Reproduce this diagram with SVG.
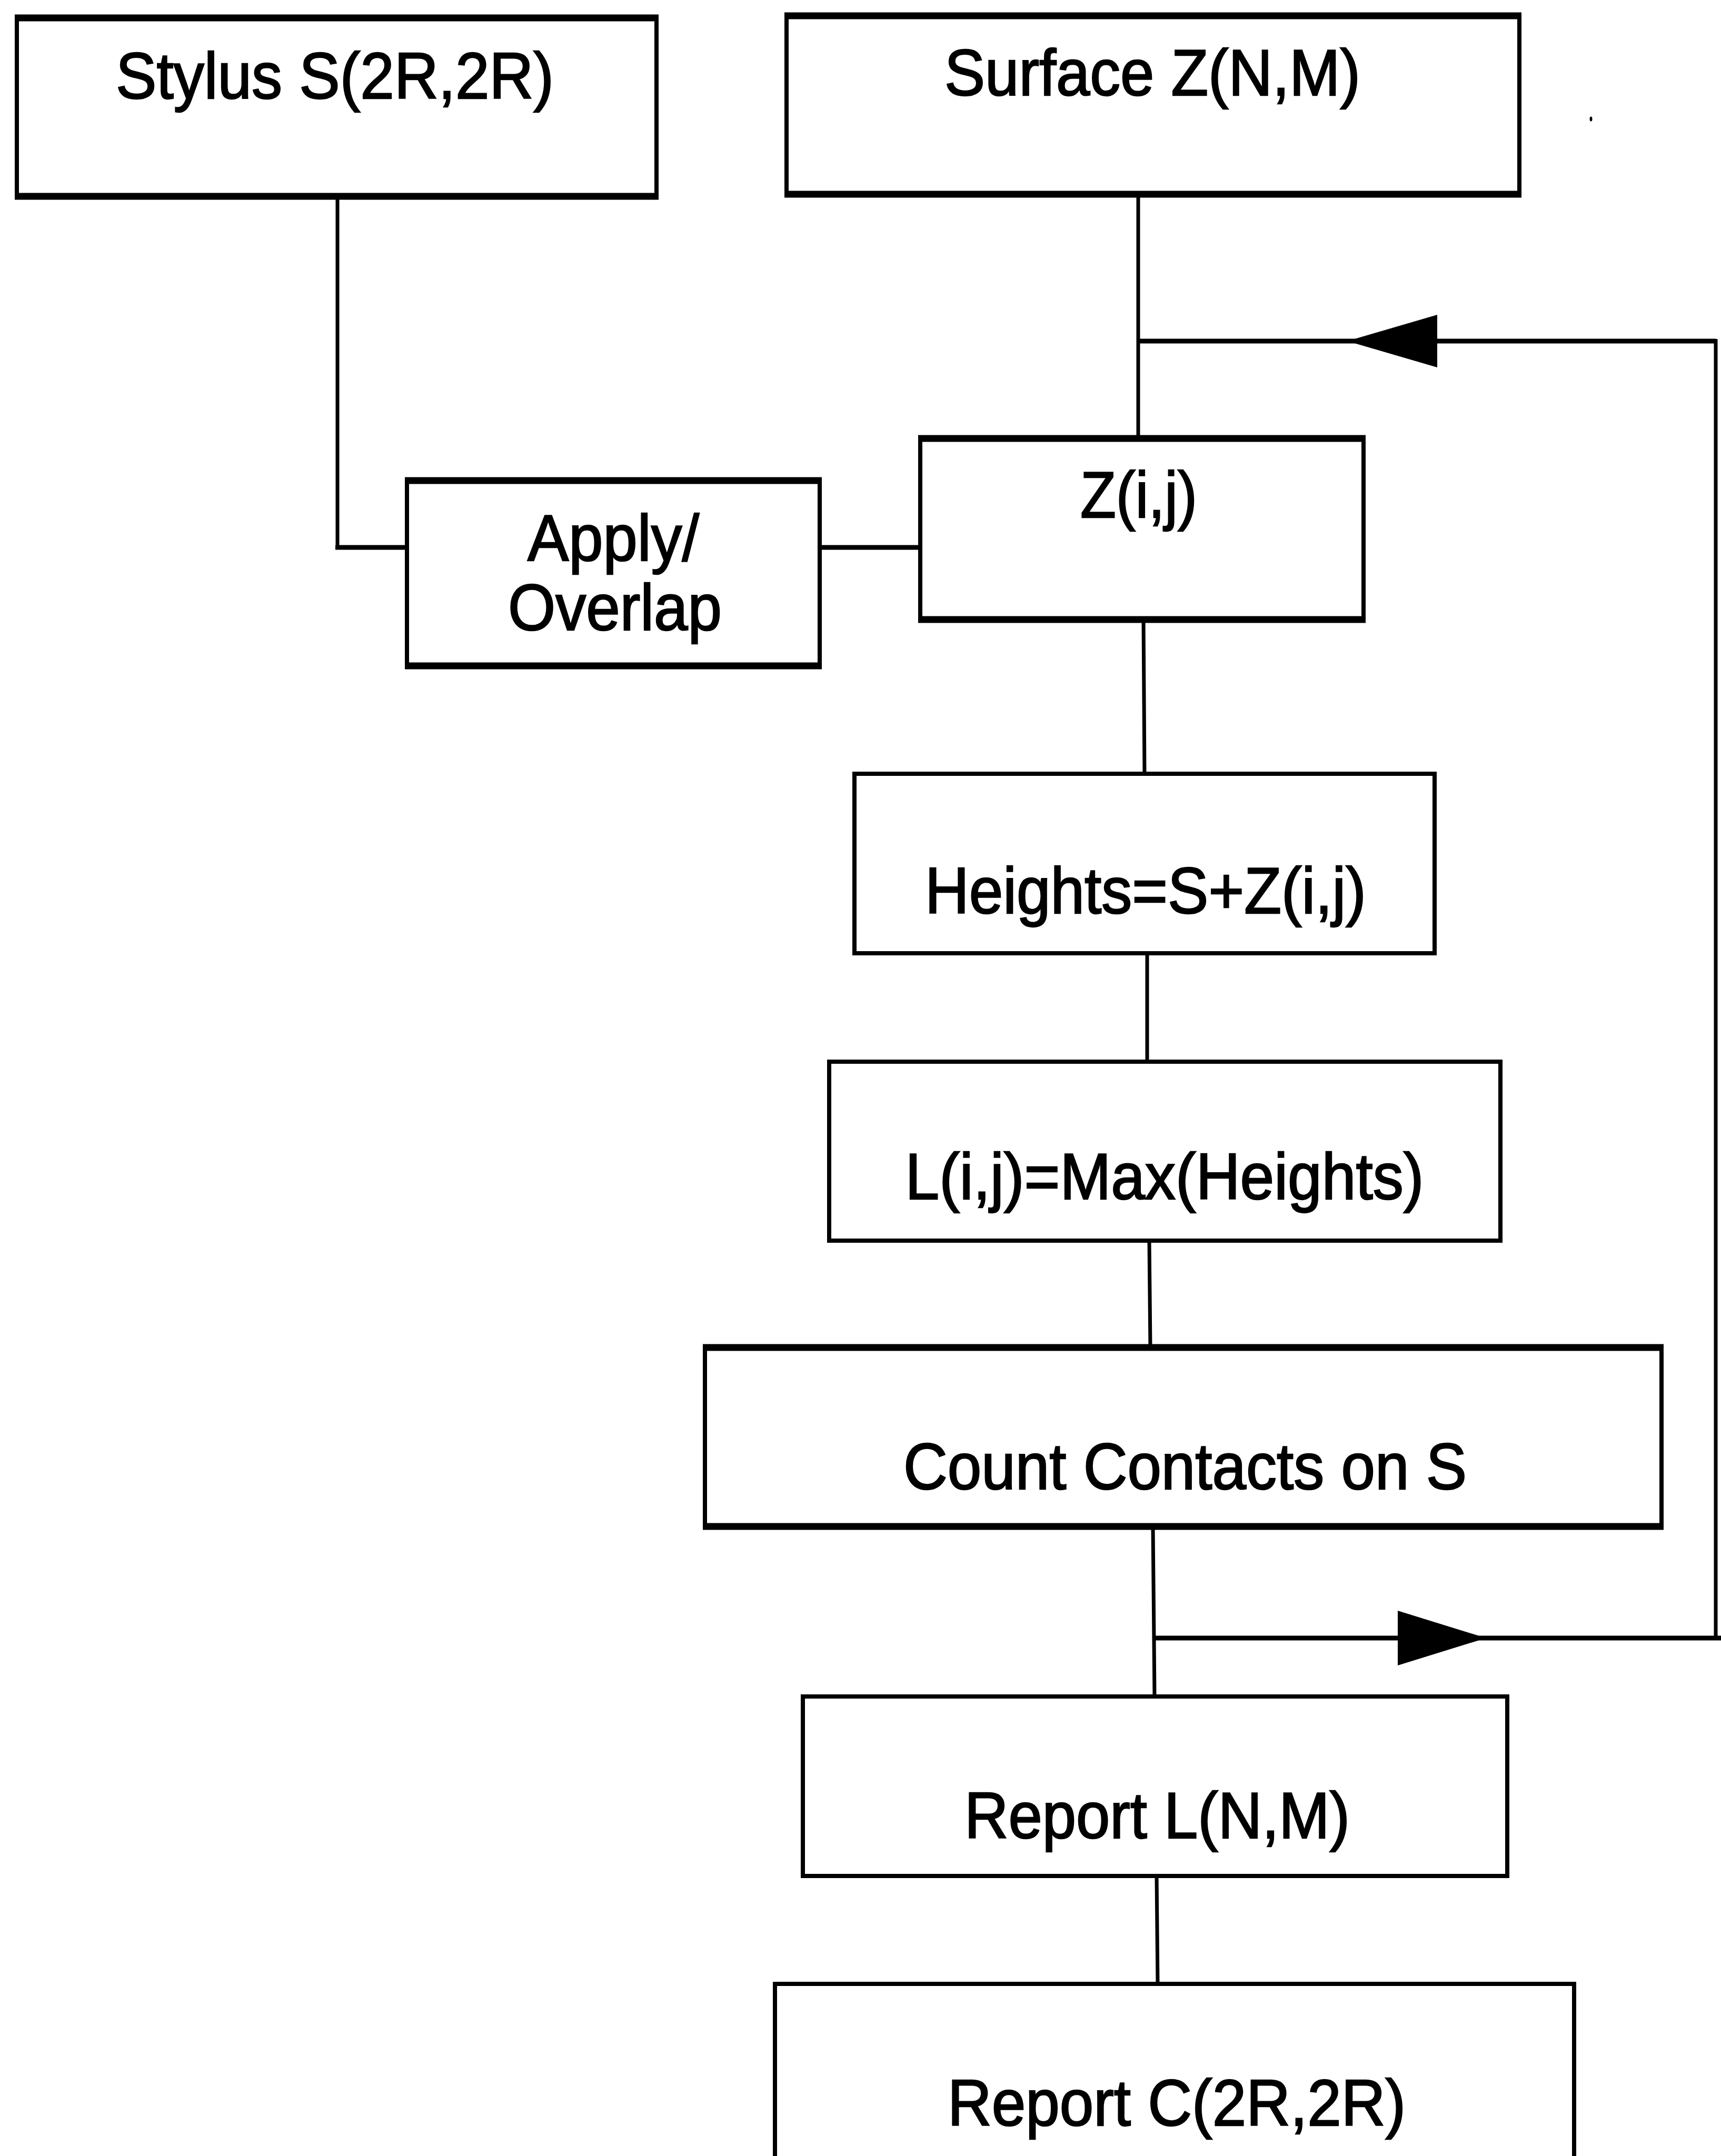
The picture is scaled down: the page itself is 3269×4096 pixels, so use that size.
<svg xmlns="http://www.w3.org/2000/svg" width="3269" height="4096" viewBox="0 0 3269 4096">
<style>
.box{fill:#fff;stroke:#000;stroke-width:8}
.edge{stroke:#000;stroke-width:13;fill:none}
.lbl{font-family:"Liberation Sans",Arial,sans-serif;font-size:125px;fill:#000;stroke:#000;stroke-width:2.5;text-anchor:middle}
.wire{stroke:#000;stroke-width:7;fill:none}
.wireh{stroke:#000;stroke-width:9;fill:none}
.head{fill:#000;stroke:none}
</style>
<rect x="0" y="0" width="3269" height="4096" fill="#fff"/>
<g id="connectors">
<path class="wire" d="M641 379 V1040"/>
<path class="wireh" d="M637 1040 H773"/>
<path class="wireh" d="M1557 1040 H1748"/>
<path class="wire" d="M2162 368 V833"/>
<path class="wireh" d="M2162 648 H3259"/>
<path class="wire" d="M3259 644 V3116"/>
<polygon class="head" points="2559,648 2730,598 2730,698"/>
<path class="wire" d="M2172 1177 L2174 1470"/>
<path class="wire" d="M2179 1811 V2017"/>
<path class="wire" d="M2183 2357 L2185 2560"/>
<path class="wire" d="M2190 2900 L2193 3223"/>
<path class="wireh" d="M2190 3112 H3269"/>
<polygon class="head" points="2655,3060 2823,3112 2655,3164"/>
<path class="wire" d="M2197 3564 L2199 3769"/>
<ellipse cx="3022" cy="226" rx="2.5" ry="4.5" fill="#000"/>
</g>
<g id="stylus">
<rect class="box" x="32" y="34" width="1215" height="339"/>
<line class="edge" x1="28" y1="34" x2="1251" y2="34"/>
<line class="edge" x1="28" y1="373" x2="1251" y2="373"/>
<text class="lbl" x="636" y="187" textLength="832" lengthAdjust="spacingAndGlyphs">Stylus S(2R,2R)</text>
</g>
<g id="surface">
<rect class="box" x="1494" y="30" width="1392" height="339"/>
<line class="edge" x1="1490" y1="30" x2="2890" y2="30"/>
<line class="edge" x1="1490" y1="369" x2="2890" y2="369"/>
<text class="lbl" x="2189" y="181" textLength="790" lengthAdjust="spacingAndGlyphs">Surface Z(N,M)</text>
</g>
<g id="zij">
<rect class="box" x="1748" y="833" width="842" height="344"/>
<line class="edge" x1="1744" y1="833" x2="2594" y2="833"/>
<line class="edge" x1="1744" y1="1177" x2="2594" y2="1177"/>
<text class="lbl" x="2163" y="983" textLength="222" lengthAdjust="spacingAndGlyphs">Z(i,j)</text>
</g>
<g id="apply">
<rect class="box" x="773" y="913" width="784" height="352"/>
<line class="edge" x1="769" y1="913" x2="1561" y2="913"/>
<line class="edge" x1="769" y1="1265" x2="1561" y2="1265"/>
<text class="lbl" x="1165" y="1065" textLength="326" lengthAdjust="spacingAndGlyphs">Apply/</text>
<text class="lbl" x="1168" y="1197" textLength="406" lengthAdjust="spacingAndGlyphs">Overlap</text>
</g>
<g id="heights">
<rect class="box" x="1623" y="1470" width="1102" height="341"/>
<text class="lbl" x="2176" y="1735" textLength="838" lengthAdjust="spacingAndGlyphs">Heights=S+Z(i,j)</text>
</g>
<g id="lmax">
<rect class="box" x="1575" y="2017" width="1275" height="340"/>
<text class="lbl" x="2212" y="2278" textLength="985" lengthAdjust="spacingAndGlyphs">L(i,j)=Max(Heights)</text>
</g>
<g id="count">
<rect class="box" x="1339" y="2560" width="1817" height="340"/>
<line class="edge" x1="1335" y1="2560" x2="3160" y2="2560"/>
<line class="edge" x1="1335" y1="2900" x2="3160" y2="2900"/>
<text class="lbl" x="2251" y="2829" textLength="1070" lengthAdjust="spacingAndGlyphs">Count Contacts on S</text>
</g>
<g id="reportL">
<rect class="box" x="1525" y="3223" width="1338" height="341"/>
<text class="lbl" x="2198" y="3492" textLength="732" lengthAdjust="spacingAndGlyphs">Report L(N,M)</text>
</g>
<g id="reportC">
<rect class="box" x="1472" y="3769" width="1518" height="400"/>
<text class="lbl" x="2235" y="4038" textLength="870" lengthAdjust="spacingAndGlyphs">Report C(2R,2R)</text>
</g>
</svg>
